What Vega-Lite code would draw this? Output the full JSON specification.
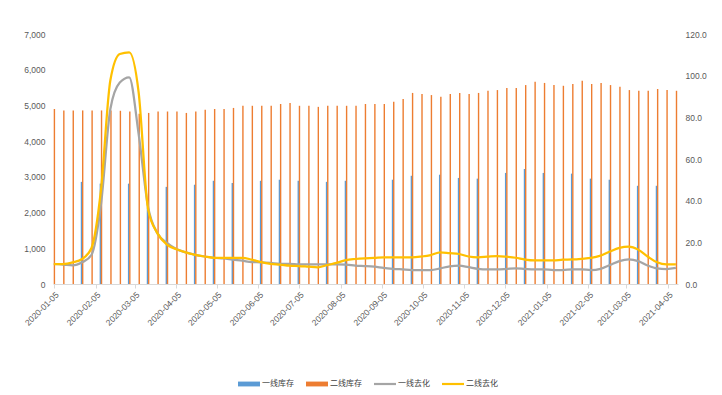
{
  "$schema": "https://vega.github.io/schema/vega-lite/v6.json",
  "width": 625,
  "height": 250,
  "autosize": {"type": "none"},
  "padding": {"left": 53, "top": 34, "right": 44, "bottom": 111},
  "background": "white",
  "config": {
    "view": {"stroke": null},
    "font": "Liberation Sans",
    "axis": {"labelColor": "#595959", "labelFontSize": 8.5, "grid": false, "title": null, "labelFont": "Liberation Sans"}
  },
  "data": {
    "values": [
      {"date": "2020-01-05", "t1": null, "t2": 4900, "q1": 9.6, "q2": 9.6},
      {"date": "2020-01-12", "t1": null, "t2": 4860, "q1": 9.3, "q2": 9.6},
      {"date": "2020-01-19", "t1": null, "t2": 4860, "q1": 8.9, "q2": 10.4},
      {"date": "2020-01-26", "t1": 2860, "t2": 4860, "q1": 10.4, "q2": 12.0},
      {"date": "2020-02-02", "t1": null, "t2": 4860, "q1": 14.0, "q2": 17.3},
      {"date": "2020-02-09", "t1": 2810, "t2": 4860, "q1": 38, "q2": 45},
      {"date": "2020-02-16", "t1": null, "t2": 4860, "q1": 84, "q2": 97.8},
      {"date": "2020-02-23", "t1": null, "t2": 4850, "q1": 96.7, "q2": 110.4},
      {"date": "2020-03-01", "t1": 2810, "t2": 4830, "q1": 99.2, "q2": 111.2},
      {"date": "2020-03-08", "t1": null, "t2": 4770, "q1": 72, "q2": 92},
      {"date": "2020-03-15", "t1": 2150, "t2": 4790, "q1": 37, "q2": 36},
      {"date": "2020-03-22", "t1": null, "t2": 4830, "q1": 24.3, "q2": 24.3},
      {"date": "2020-03-29", "t1": 2720, "t2": 4830, "q1": 19.7, "q2": 18.9},
      {"date": "2020-04-05", "t1": null, "t2": 4830, "q1": 16.8, "q2": 16.7},
      {"date": "2020-04-12", "t1": null, "t2": 4790, "q1": 15.2, "q2": 15.2},
      {"date": "2020-04-19", "t1": 2780, "t2": 4830, "q1": 14.0, "q2": 14.0},
      {"date": "2020-04-26", "t1": null, "t2": 4880, "q1": 13.2, "q2": 13.2},
      {"date": "2020-05-03", "t1": 2890, "t2": 4900, "q1": 12.6, "q2": 12.6},
      {"date": "2020-05-10", "t1": null, "t2": 4900, "q1": 12.3, "q2": 12.6},
      {"date": "2020-05-17", "t1": 2830, "t2": 4930, "q1": 11.7, "q2": 12.6},
      {"date": "2020-05-24", "t1": null, "t2": 4990, "q1": 11.2, "q2": 12.6},
      {"date": "2020-05-31", "t1": null, "t2": 4990, "q1": 10.5, "q2": 11.7},
      {"date": "2020-06-07", "t1": 2890, "t2": 4990, "q1": 10.4, "q2": 10.5},
      {"date": "2020-06-14", "t1": null, "t2": 4990, "q1": 10.1, "q2": 9.7},
      {"date": "2020-06-21", "t1": 2920, "t2": 5040, "q1": 9.7, "q2": 9.3},
      {"date": "2020-06-28", "t1": null, "t2": 5070, "q1": 9.7, "q2": 8.8},
      {"date": "2020-07-05", "t1": 2890, "t2": 4990, "q1": 9.4, "q2": 8.6},
      {"date": "2020-07-12", "t1": null, "t2": 4990, "q1": 9.4, "q2": 8.3},
      {"date": "2020-07-19", "t1": null, "t2": 4960, "q1": 9.4, "q2": 8.0},
      {"date": "2020-07-26", "t1": 2860, "t2": 4990, "q1": 9.4, "q2": 9.1},
      {"date": "2020-08-02", "t1": null, "t2": 4990, "q1": 9.4, "q2": 10.1},
      {"date": "2020-08-09", "t1": 2890, "t2": 4990, "q1": 9.3, "q2": 11.5},
      {"date": "2020-08-16", "t1": null, "t2": 4990, "q1": 8.8, "q2": 12.0},
      {"date": "2020-08-23", "t1": null, "t2": 5040, "q1": 8.6, "q2": 12.3},
      {"date": "2020-08-30", "t1": null, "t2": 5040, "q1": 8.3, "q2": 12.5},
      {"date": "2020-09-06", "t1": null, "t2": 5040, "q1": 7.7, "q2": 12.8},
      {"date": "2020-09-13", "t1": 2920, "t2": 5100, "q1": 7.3, "q2": 12.8},
      {"date": "2020-09-20", "t1": null, "t2": 5180, "q1": 7.0, "q2": 12.8},
      {"date": "2020-09-27", "t1": 3030, "t2": 5350, "q1": 6.7, "q2": 12.8},
      {"date": "2020-10-04", "t1": null, "t2": 5320, "q1": 6.7, "q2": 13.2},
      {"date": "2020-10-11", "t1": null, "t2": 5290, "q1": 6.7, "q2": 13.9},
      {"date": "2020-10-18", "t1": 3060, "t2": 5240, "q1": 7.5, "q2": 15.2},
      {"date": "2020-10-25", "t1": null, "t2": 5320, "q1": 8.5, "q2": 14.8},
      {"date": "2020-11-01", "t1": 2970, "t2": 5350, "q1": 8.8, "q2": 14.4},
      {"date": "2020-11-08", "t1": null, "t2": 5320, "q1": 8.1, "q2": 13.2},
      {"date": "2020-11-15", "t1": 2950, "t2": 5350, "q1": 7.3, "q2": 12.8},
      {"date": "2020-11-22", "t1": null, "t2": 5410, "q1": 7.0, "q2": 13.1},
      {"date": "2020-11-29", "t1": null, "t2": 5430, "q1": 7.0, "q2": 13.4},
      {"date": "2020-12-06", "t1": 3110, "t2": 5490, "q1": 7.2, "q2": 13.1},
      {"date": "2020-12-13", "t1": null, "t2": 5490, "q1": 7.5, "q2": 12.6},
      {"date": "2020-12-20", "t1": 3220, "t2": 5570, "q1": 7.2, "q2": 11.7},
      {"date": "2020-12-27", "t1": null, "t2": 5660, "q1": 7.0, "q2": 11.3},
      {"date": "2021-01-03", "t1": 3110, "t2": 5630, "q1": 7.0, "q2": 11.3},
      {"date": "2021-01-10", "t1": null, "t2": 5570, "q1": 6.7, "q2": 11.3},
      {"date": "2021-01-17", "t1": null, "t2": 5550, "q1": 6.7, "q2": 11.7},
      {"date": "2021-01-24", "t1": 3090, "t2": 5600, "q1": 7.0, "q2": 11.8},
      {"date": "2021-01-31", "t1": null, "t2": 5690, "q1": 7.0, "q2": 12.1},
      {"date": "2021-02-07", "t1": 2950, "t2": 5600, "q1": 6.7, "q2": 12.5},
      {"date": "2021-02-14", "t1": null, "t2": 5630, "q1": 7.3, "q2": 13.6},
      {"date": "2021-02-21", "t1": 2920, "t2": 5570, "q1": 9.1, "q2": 15.6},
      {"date": "2021-02-28", "t1": null, "t2": 5520, "q1": 11.0, "q2": 17.3},
      {"date": "2021-03-07", "t1": null, "t2": 5430, "q1": 11.8, "q2": 17.9},
      {"date": "2021-03-14", "t1": 2750, "t2": 5410, "q1": 11.0, "q2": 16.5},
      {"date": "2021-03-21", "t1": null, "t2": 5410, "q1": 8.9, "q2": 13.2},
      {"date": "2021-03-28", "t1": 2750, "t2": 5460, "q1": 7.5, "q2": 10.4},
      {"date": "2021-04-04", "t1": null, "t2": 5430, "q1": 7.2, "q2": 9.4},
      {"date": "2021-04-11", "t1": null, "t2": 5410, "q1": 7.7, "q2": 9.4}
    ]
  },
  "encoding": {
    "x": {
      "field": "date",
      "type": "temporal",
      "scale": {"type": "utc", "domain": [1578130560000, 1618233984000], "padding": 0, "nice": false},
      "axis": {
        "values": [
          {"year": 2020, "month": 1, "date": 5, "utc": true},
          {"year": 2020, "month": 2, "date": 5, "utc": true},
          {"year": 2020, "month": 3, "date": 5, "utc": true},
          {"year": 2020, "month": 4, "date": 5, "utc": true},
          {"year": 2020, "month": 5, "date": 5, "utc": true},
          {"year": 2020, "month": 6, "date": 5, "utc": true},
          {"year": 2020, "month": 7, "date": 5, "utc": true},
          {"year": 2020, "month": 8, "date": 5, "utc": true},
          {"year": 2020, "month": 9, "date": 5, "utc": true},
          {"year": 2020, "month": 10, "date": 5, "utc": true},
          {"year": 2020, "month": 11, "date": 5, "utc": true},
          {"year": 2020, "month": 12, "date": 5, "utc": true},
          {"year": 2021, "month": 1, "date": 5, "utc": true},
          {"year": 2021, "month": 2, "date": 5, "utc": true},
          {"year": 2021, "month": 3, "date": 5, "utc": true},
          {"year": 2021, "month": 4, "date": 5, "utc": true}
        ],
        "format": "%Y-%m-%d",
        "labelAngle": -45,
        "labelFlush": false,
        "labelOverlap": false,
        "labelBound": false,
        "labelPadding": 2,
        "domainColor": "#d9d9d9",
        "tickColor": "#d9d9d9",
        "tickSize": 4,
        "title": null
      }
    }
  },
  "layer": [
    {
      "layer": [
        {
          "mark": {"type": "bar", "width": 1.4, "xOffset": -0.6},
          "encoding": {
            "y": {
              "field": "t1",
              "type": "quantitative",
              "scale": {"domain": [0, 7000]},
              "axis": {"values": [0, 1000, 2000, 3000, 4000, 5000, 6000, 7000], "format": ",.0f", "domain": false, "ticks": false, "tickSize": 0, "labelPadding": 8, "title": null}
            },
            "color": {
              "datum": "一线库存",
              "type": "nominal",
              "scale": {"domain": ["一线库存", "二线库存", "一线去化", "二线去化"], "range": ["#5b9bd5", "#ed7d31", "#a5a5a5", "#ffc000"]},
              "legend": {
                "orient": "none",
                "legendX": 185,
                "legendY": 339,
                "direction": "horizontal",
                "title": null,
                "labelFont": "Noto Sans CJK SC",
                "labelFontSize": 8,
                "labelColor": "#404040",
                "symbolSize": 484,
                "labelOffset": 2,
                "columnPadding": 12,
                "padding": 0,
                "encode": {
                  "symbols": {
                    "update": {
                      "shape": {"signal": "(datum.value === '一线库存' || datum.value === '二线库存') ? 'M-1,-0.22H1V0.22H-1Z' : 'M-1,-0.1H1V0.1H-1Z'"},
                      "fill": {"scale": "color", "field": "value"},
                      "stroke": {"value": "transparent"},
                      "strokeWidth": {"value": 0},
                      "opacity": {"value": 1}
                    }
                  }
                }
              }
            }
          }
        },
        {
          "mark": {"type": "bar", "width": 1.4, "xOffset": 0.6},
          "encoding": {
            "y": {
              "field": "t2",
              "type": "quantitative",
              "scale": {"domain": [0, 7000]},
              "axis": {"values": [0, 1000, 2000, 3000, 4000, 5000, 6000, 7000], "format": ",.0f", "domain": false, "ticks": false, "tickSize": 0, "labelPadding": 8, "title": null}
            },
            "color": {"datum": "二线库存", "type": "nominal"}
          }
        }
      ]
    },
    {
      "layer": [
        {
          "mark": {"type": "line", "interpolate": "monotone", "strokeWidth": 2.25},
          "encoding": {
            "y": {
              "field": "q1",
              "type": "quantitative",
              "scale": {"domain": [0, 120]},
              "axis": {"orient": "right", "values": [0, 20, 40, 60, 80, 100, 120], "format": ".1f", "domain": false, "ticks": false, "tickSize": 0, "labelPadding": 7, "title": null}
            },
            "color": {"datum": "一线去化", "type": "nominal"}
          }
        },
        {
          "mark": {"type": "line", "interpolate": "monotone", "strokeWidth": 2.25},
          "encoding": {
            "y": {
              "field": "q2",
              "type": "quantitative",
              "scale": {"domain": [0, 120]},
              "axis": {"orient": "right", "values": [0, 20, 40, 60, 80, 100, 120], "format": ".1f", "domain": false, "ticks": false, "tickSize": 0, "labelPadding": 7, "title": null}
            },
            "color": {"datum": "二线去化", "type": "nominal"}
          }
        }
      ]
    }
  ],
  "resolve": {"scale": {"y": "independent"}}
}
